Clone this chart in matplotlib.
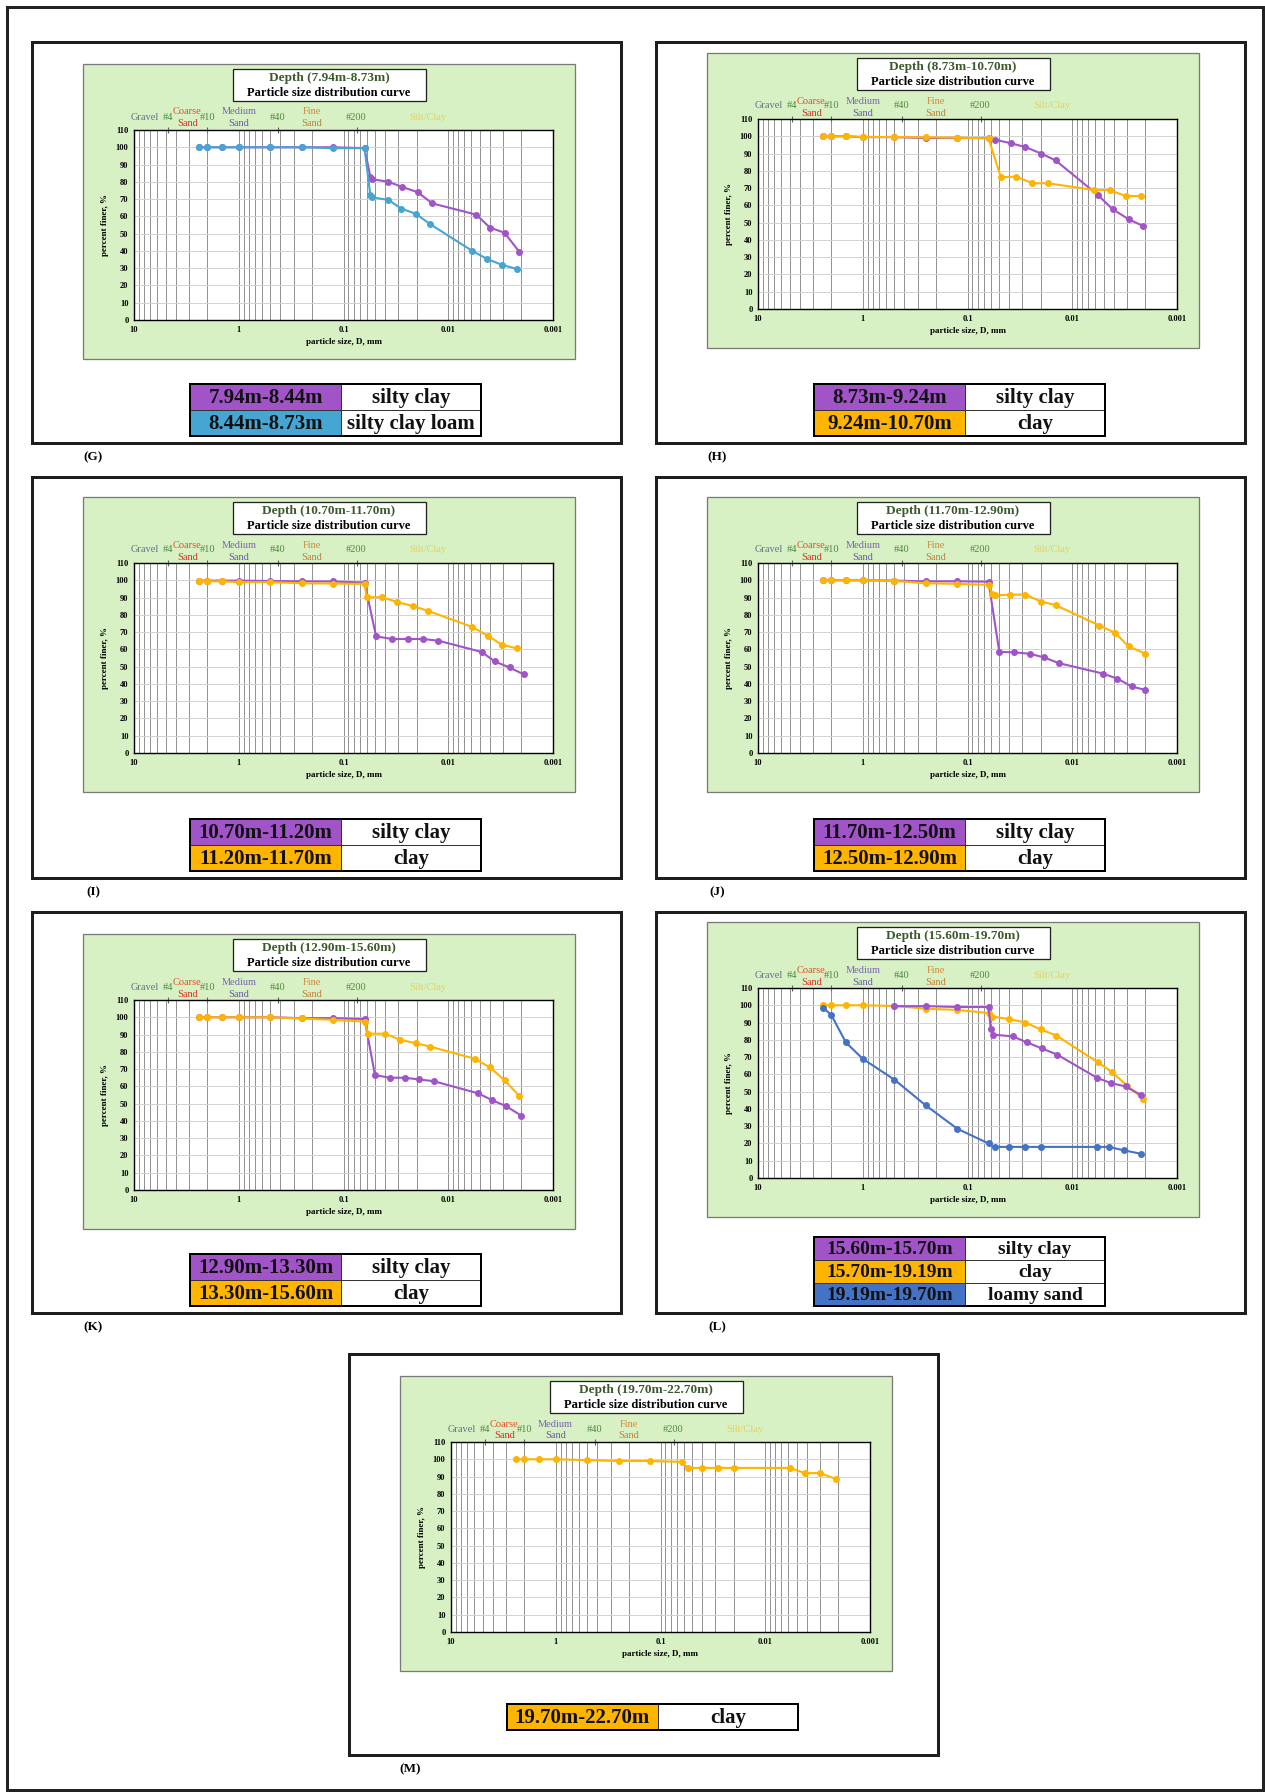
import matplotlib
matplotlib.use('Agg')
import matplotlib.pyplot as plt
from matplotlib.patches import Rectangle
import matplotlib.transforms as mtransforms
from matplotlib.ticker import FixedLocator, FixedFormatter, NullFormatter

W, H = 1265, 1792
DPI = 100
PX = 72.0 / DPI  # points per pixel

plt.rcParams['font.family'] = ['Liberation Serif', 'DejaVu Serif']

# sieve sizes (mm) shared by every test
SIEVE = [2.4, 2.0, 1.45, 1.0, 0.5, 0.25, 0.125, 0.063]

# (G) 7.94m-8.73m
g_silty_x = SIEVE + [0.0555, 0.053, 0.0372, 0.0275, 0.0196, 0.0142, 0.0054, 0.0040, 0.0029, 0.0021]
g_silty_y = [100, 100, 100, 100, 100, 100, 100, 99.5, 83, 81.5, 80, 77, 74, 67.5, 61, 53.5, 50.5, 39.5]
g_loam_x = SIEVE + [0.0555, 0.053, 0.0372, 0.0281, 0.0204, 0.0149, 0.0059, 0.0043, 0.0031, 0.0022]
g_loam_y = [100, 100, 100, 100, 100, 100, 99.5, 99.5, 72.5, 71, 69.5, 64.5, 61.5, 55.5, 40, 35.5, 32, 29.5]

# (H) 8.73m-10.70m
h_silty_x = SIEVE + [0.0546, 0.0387, 0.0282, 0.0198, 0.0144, 0.0057, 0.0041, 0.0029, 0.0021]
h_silty_y = [100, 100, 100, 99.5, 99.5, 99, 99, 99, 98, 96, 93.8, 90, 86, 66, 57.7, 52, 48]
h_clay_x = SIEVE + [0.048, 0.0342, 0.024, 0.0171, 0.0062, 0.0044, 0.0031, 0.0022]
h_clay_y = [100, 100, 100, 99.6, 99.6, 99.4, 99.2, 98.8, 76.3, 76.6, 72.8, 72.8, 68.9, 68.9, 65.4, 65.4]

# (I) 10.70m-11.70m
i_silty_x = SIEVE + [0.0488, 0.0342, 0.0244, 0.0174, 0.0124, 0.0048, 0.0036, 0.0026, 0.0019]
i_silty_y = [99.8, 99.8, 99.8, 99.8, 99.6, 99.4, 99.3, 98.7, 67.5, 66, 66, 66, 65, 58.5, 53, 49.5, 45.5]
i_clay_x = SIEVE + [0.060, 0.043, 0.0306, 0.0219, 0.0156, 0.0059, 0.0042, 0.0031, 0.0022]
i_clay_y = [99.8, 99.4, 99.4, 98.9, 98.9, 98.3, 98.1, 97.9, 90.2, 90.2, 87.4, 85.1, 82.3, 73, 67.9, 62.8, 60.5]

# (J) 11.70m-12.90m
j_silty_x = SIEVE + [0.0497, 0.0357, 0.0252, 0.0185, 0.0134, 0.0051, 0.0037, 0.0027, 0.0020]
j_silty_y = [100, 100, 100, 100, 99.8, 99.4, 99.4, 99.2, 58.5, 58.3, 57.4, 55.3, 52, 46, 43, 38.5, 36.5]
j_clay_x = SIEVE + [0.058, 0.055, 0.0394, 0.0282, 0.0198, 0.0144, 0.0055, 0.0039, 0.0029, 0.0020]
j_clay_y = [100, 100, 100, 100, 99.6, 98.3, 97.9, 97.4, 92, 91.2, 91.7, 91.7, 87.7, 85.6, 73.8, 69.6, 61.7, 57.5]

# (K) 12.90m-15.60m
k_silty_x = SIEVE + [0.050, 0.036, 0.026, 0.019, 0.0138, 0.0052, 0.0038, 0.0028, 0.0020]
k_silty_y = [100, 100, 100, 100, 100, 99.5, 99.5, 99, 66.5, 65, 65, 64, 63, 56, 52, 48.5, 43]
k_clay_x = SIEVE + [0.058, 0.040, 0.029, 0.0205, 0.0148, 0.0056, 0.0040, 0.0029, 0.0021]
k_clay_y = [100, 100, 100, 100, 100, 99.3, 98.5, 97.5, 90.5, 90.5, 87, 85, 83, 76, 71, 63.5, 54.5]

# (L) 15.60m-19.70m
l_silty_x = [0.5, 0.25, 0.125, 0.063, 0.060, 0.057, 0.037, 0.027, 0.0195, 0.014, 0.0058, 0.0043, 0.0031, 0.0022]
l_silty_y = [99.5, 99.5, 99, 99, 86.5, 83, 82, 78.5, 75, 71.5, 58, 55, 53, 48]
l_clay_x = SIEVE + [0.058, 0.040, 0.028, 0.020, 0.0142, 0.0057, 0.0042, 0.0030, 0.0021]
l_clay_y = [100, 100, 100, 100, 99.6, 98, 97.3, 95.5, 93.5, 92, 90, 86, 82.5, 67, 61.5, 53.5, 46]
l_sand_x = SIEVE + [0.055, 0.040, 0.028, 0.020, 0.0058, 0.0045, 0.0032, 0.0022]
l_sand_y = [98.6, 94.5, 78.5, 69, 57, 42, 28.5, 20, 18, 18, 18, 18, 18, 18, 16, 14]

# (M) 19.70m-22.70m
m_clay_x = SIEVE + [0.055, 0.040, 0.028, 0.020, 0.0058, 0.0042, 0.0030, 0.0021]
m_clay_y = [100, 100, 100, 100, 99.5, 99, 99, 98.5, 95, 95, 95, 95, 95, 92, 92, 88.5]

PURPLE = '#a054c8'
BLUE_G = '#45a5d3'
ORANGE = '#ffb400'
BLUE_L = '#4472c4'
GREEN_BG = '#d8f1c4'

fig = plt.figure(figsize=(W / DPI, H / DPI), dpi=DPI)
bg = fig.add_axes([0, 0, 1, 1])
bg.set_xlim(0, W)
bg.set_ylim(H, 0)
bg.axis('off')


def rect(x, y, w, h, **kw):
    bg.add_patch(Rectangle((x, y), w, h, **kw))


def frac(x, y, w, h):
    return [x / W, 1 - (y + h) / H, w / W, h / H]


rect(7, 7, 1256, 1783, fill=False, ec='#222222', lw=3 * PX)


def draw_panel(bx, by, title, series, rows, tag, dy=0, leg_top=342, row_h=26, leg_fs=15):
    rect(bx, by, 589, 401, fill=False, ec='#1e1e1e', lw=3 * PX)
    rect(bx + 51, by + 22 + dy, 492, 295, fc=GREEN_BG, ec='#7a7a7a', lw=1.3 * PX)
    rect(bx + 201, by + 27 + dy, 193, 32, fc='white', ec='#222222', lw=1.3 * PX)
    bg.text(bx + 297, by + 36 + dy, title, color='#3a5a2c', fontsize=9.5,
            fontweight='bold', ha='center', va='center')
    bg.text(bx + 297, by + 51 + dy, 'Particle size distribution curve', color='black',
            fontsize=9, fontweight='bold', ha='center', va='center')

    ax = fig.add_axes(frac(bx + 102, by + 88 + dy, 419, 190))
    ax.set_xscale('log')
    ax.set_xlim(10, 0.001)
    ax.set_ylim(0, 110)
    ax.xaxis.set_major_locator(FixedLocator([10, 1, 0.1, 0.01, 0.001]))
    ax.xaxis.set_major_formatter(FixedFormatter(['10', '1', '0.1', '0.01', '0.001']))
    ax.xaxis.set_minor_formatter(NullFormatter())
    ax.set_yticks(range(0, 111, 10))
    ax.grid(True, which='both', axis='x', color='#7e7e7e', lw=0.6)
    ax.grid(True, which='major', axis='y', color='#d2d2d2', lw=0.7)
    ax.set_axisbelow(True)
    ax.tick_params(which='both', length=0, labelsize=6, pad=4)
    for lab in ax.get_xticklabels() + ax.get_yticklabels():
        lab.set_fontweight('bold')
    for sp in ax.spines.values():
        sp.set_linewidth(1.4 * PX)
        sp.set_color('black')
    ax.set_xlabel('particle size, D, mm', fontsize=6.5, fontweight='bold', labelpad=3)
    ax.set_ylabel('percent finer, %', fontsize=6.5, fontweight='bold', labelpad=5)

    for x, y, c in series:
        ax.plot(x, y, color=c, lw=1.5, marker='o', ms=4, mec=c, mfc=c)

    sec = ax.secondary_xaxis('top')
    sec.xaxis.set_major_locator(FixedLocator([4.75, 2.0, 0.425, 0.075]))
    sec.xaxis.set_major_formatter(NullFormatter())
    sec.xaxis.set_minor_locator(FixedLocator([]))
    sec.tick_params(direction='inout', length=5, width=0.8, color='#606060')
    sec.spines['top'].set_visible(False)

    tr = mtransforms.blended_transform_factory(ax.transData, ax.transAxes)
    up, lo, mid = 1 + 18 / 190, 1 + 6 / 190, 1 + 13 / 190
    labels = [(7.85, mid, 'Gravel', '#5c7290'), (4.75, mid, '#4', '#4a8a3c'),
              (3.15, up, 'Coarse', '#e0502a'), (3.05, lo, 'Sand', '#d83020'),
              (2.0, mid, '#10', '#4a8a3c'), (1.0, up, 'Medium', '#7c62b4'),
              (1.0, lo, 'Sand', '#6a5aa4'), (0.425, mid, '#40', '#4a8a3c'),
              (0.2, up, 'Fine', '#d08a3a'), (0.2, lo, 'Sand', '#c08038'),
              (0.075, mid, '#200', '#4a8a3c'), (0.0156, mid, 'Silt/Clay', '#ecd050')]
    for lx, ly, s, c in labels:
        ax.text(lx, ly, s, transform=tr, color=c, fontsize=7.5, ha='center',
                va='center', clip_on=False)

    # legend table under the chart
    lx0 = bx + 158
    for i, (rng, soil, c) in enumerate(rows):
        ry = by + leg_top + i * row_h
        rect(lx0, ry, 151, row_h, fc=c, ec='#333333', lw=1 * PX)
        rect(lx0 + 151, ry, 140, row_h, fc='white', ec='#333333', lw=1 * PX)
        bg.text(lx0 + 75.5, ry + row_h / 2 + 1, rng, fontsize=leg_fs, fontweight='bold',
                ha='center', va='center', color='#111111')
        bg.text(lx0 + 221, ry + row_h / 2 + 1, soil, fontsize=leg_fs, fontweight='bold',
                ha='center', va='center', color='#111111')
    rect(lx0, by + leg_top, 291, row_h * len(rows), fill=False, ec='black', lw=2 * PX)
    bg.text(bx + 61, by + 415, tag, fontsize=9.5, fontweight='bold', ha='center', va='center')


draw_panel(32, 42, 'Depth (7.94m-8.73m)',
           [(g_silty_x, g_silty_y, PURPLE), (g_loam_x, g_loam_y, BLUE_G)],
           [('7.94m-8.44m', 'silty clay', PURPLE), ('8.44m-8.73m', 'silty clay loam', BLUE_G)],
           '(G)')
draw_panel(656, 42, 'Depth (8.73m-10.70m)',
           [(h_silty_x, h_silty_y, PURPLE), (h_clay_x, h_clay_y, ORANGE)],
           [('8.73m-9.24m', 'silty clay', PURPLE), ('9.24m-10.70m', 'clay', ORANGE)],
           '(H)', dy=-11)
draw_panel(32, 477, 'Depth (10.70m-11.70m)',
           [(i_silty_x, i_silty_y, PURPLE), (i_clay_x, i_clay_y, ORANGE)],
           [('10.70m-11.20m', 'silty clay', PURPLE), ('11.20m-11.70m', 'clay', ORANGE)],
           '(I)', dy=-2)
draw_panel(656, 477, 'Depth (11.70m-12.90m)',
           [(j_silty_x, j_silty_y, PURPLE), (j_clay_x, j_clay_y, ORANGE)],
           [('11.70m-12.50m', 'silty clay', PURPLE), ('12.50m-12.90m', 'clay', ORANGE)],
           '(J)', dy=-2)
draw_panel(32, 912, 'Depth (12.90m-15.60m)',
           [(k_silty_x, k_silty_y, PURPLE), (k_clay_x, k_clay_y, ORANGE)],
           [('12.90m-13.30m', 'silty clay', PURPLE), ('13.30m-15.60m', 'clay', ORANGE)],
           '(K)')
draw_panel(656, 912, 'Depth (15.60m-19.70m)',
           [(l_clay_x, l_clay_y, ORANGE), (l_silty_x, l_silty_y, PURPLE), (l_sand_x, l_sand_y, BLUE_L)],
           [('15.60m-15.70m', 'silty clay', PURPLE), ('15.70m-19.19m', 'clay', ORANGE),
            ('19.19m-19.70m', 'loamy sand', BLUE_L)],
           '(L)', dy=-12, leg_top=325, row_h=23, leg_fs=14)
draw_panel(349, 1354, 'Depth (19.70m-22.70m)',
           [(m_clay_x, m_clay_y, ORANGE)],
           [('19.70m-22.70m', 'clay', ORANGE)],
           '(M)', leg_top=350)

fig.savefig('out.png', dpi=DPI)
